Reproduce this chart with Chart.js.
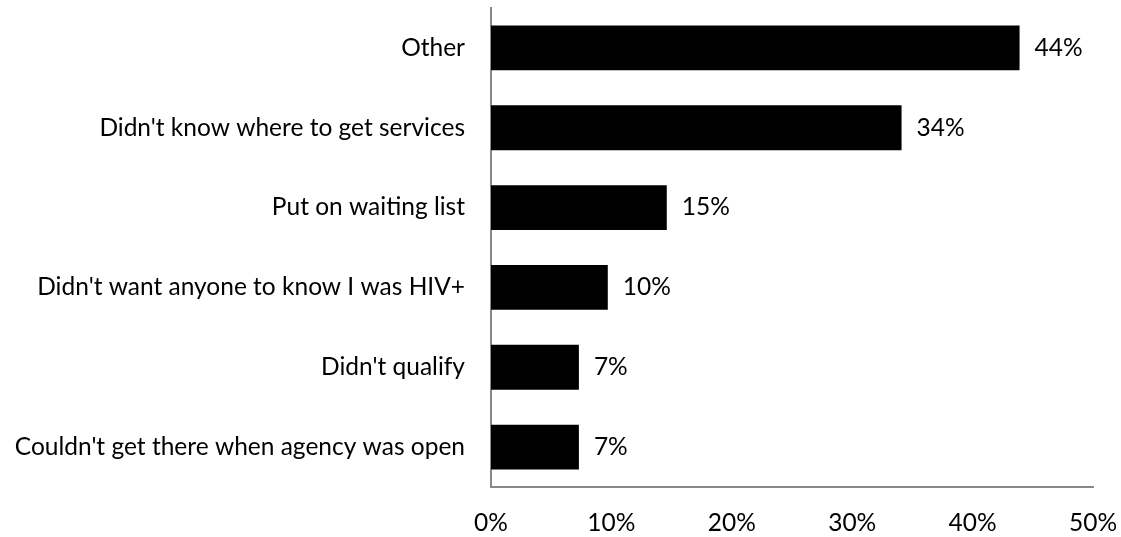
<!DOCTYPE html>
<html>
<head>
<meta charset="utf-8">
<script src="https://cdn.jsdelivr.net/npm/chart.js@4"></script>
<style>
  html, body { margin: 0; padding: 0; background: #fff; }
  #wrap { width: 1121px; height: 537px; }
</style>
</head>
<body>
<div id="wrap"><canvas id="reasons" width="1121" height="537"></canvas></div>
<script>
// reasons for not getting services, share of respondents (%)
var categories = [
    'Other',
    "Didn't know where to get services",
    'Put on waiting list',
    "Didn't want anyone to know I was HIV+",
    "Didn't qualify",
    "Couldn't get there when agency was open"
];
var percents = [43.9, 34.1, 14.6, 9.7, 7.3, 7.3];
var xTicks = [0, 10, 20, 30, 40, 50];

var fontFamily = 'Lato, "Open Sans", sans-serif';
var fontSize = 24.5;

// writes "44%" etc. to the right of each bar
var valueLabels = {
    id: 'valueLabels',
    afterDatasetsDraw: function(chart) {
        var ctx = chart.ctx;
        var meta = chart.getDatasetMeta(0);
        ctx.save();
        ctx.font = fontSize + 'px ' + fontFamily;
        ctx.fillStyle = '#000';
        ctx.textAlign = 'left';
        ctx.textBaseline = 'middle';
        meta.data.forEach(function(bar, i) {
            ctx.fillText(Math.round(percents[i]) + '%', bar.x + 15, bar.y);
        });
        ctx.restore();
    }
};

// no extra room for half labels at the ends of the axes
function noEdgePadding(scale) {
    scale.paddingTop = 0;
    scale.paddingBottom = 0;
    scale.paddingLeft = 0;
    scale.paddingRight = 0;
}

var ctx = document.getElementById('reasons');
var reasonsChart = new Chart(ctx, {
    type: 'bar',
    data: {
        labels: categories,
        datasets: [{
            data: percents,
            backgroundColor: '#000000',
            borderWidth: 0,
            barPercentage: 0.5625,
            categoryPercentage: 1
        }]
    },
    options: {
        indexAxis: 'y',
        responsive: false,
        animation: false,
        layout: { padding: { top: 8, right: 28, left: 0, bottom: 0 } },
        plugins: {
            legend: { display: false },
            tooltip: { enabled: false }
        },
        scales: {
            x: {
                min: 0,
                max: 50,
                afterBuildTicks: function(scale) {
                    scale.ticks = xTicks.map(function(v) { return { value: v }; });
                },
                afterFit: function(scale) {
                    scale.height = 50;
                    noEdgePadding(scale);
                },
                grid: { display: false, drawTicks: false },
                border: { display: true, color: '#888888', width: 2 },
                ticks: {
                    padding: 21,
                    color: '#000',
                    font: { family: fontFamily, size: fontSize },
                    callback: function(v) { return v + '%'; }
                }
            },
            y: {
                afterFit: function(scale) {
                    scale.width = 491;
                    noEdgePadding(scale);
                },
                grid: { display: false, drawTicks: false },
                border: { display: true, color: '#888888', width: 2 },
                ticks: {
                    padding: 26,
                    color: '#000',
                    font: { family: fontFamily, size: fontSize }
                }
            }
        }
    },
    plugins: [valueLabels]
});
</script>
</body>
</html>
